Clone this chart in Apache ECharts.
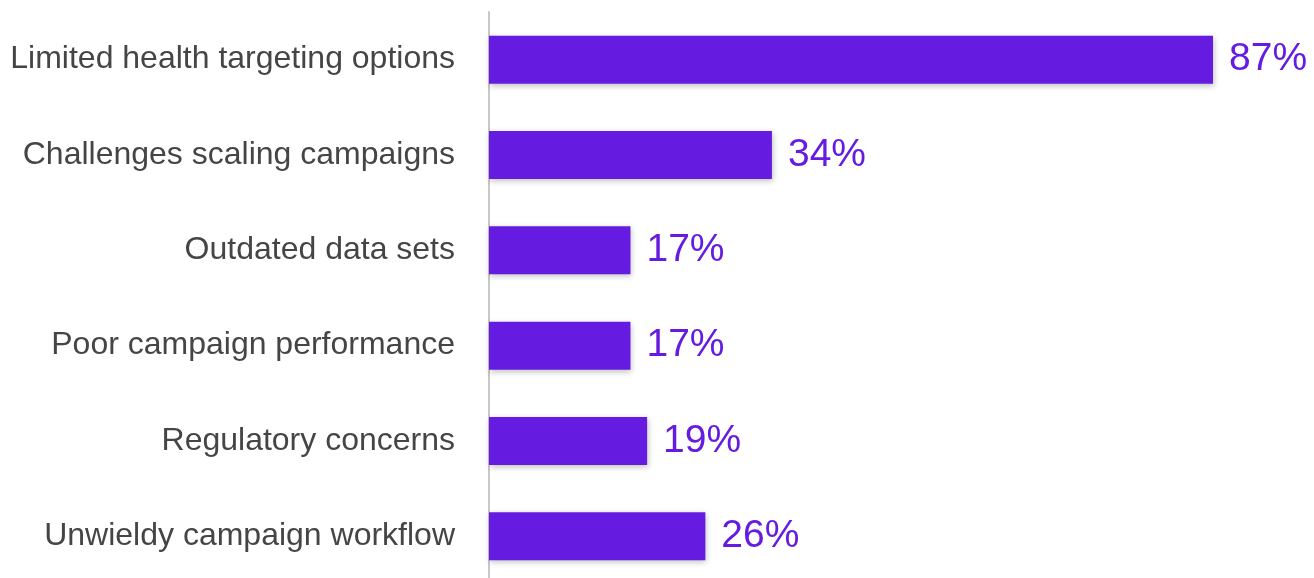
<!DOCTYPE html>
<html>
<head>
<meta charset="UTF-8">
<title>Health targeting challenges</title>
<script src="https://cdn.jsdelivr.net/npm/echarts@6/dist/echarts.min.js"></script>
<style>
  html, body { margin: 0; padding: 0; background: #fff; }
</style>
</head>
<body>
<div id="main" style="width:1314px;height:578px;"></div>
<script type="text/javascript">
// data (top to bottom)
var categories = ['Limited health targeting options', 'Challenges scaling campaigns', 'Outdated data sets',
                  'Poor campaign performance', 'Regulatory concerns', 'Unwieldy campaign workflow'];
var values = [87, 34, 17, 17, 19, 26];

var myChart = echarts.init(document.getElementById('main'));

var option = {
    animation: false,
    grid: {
        left: 489,
        top: 12,
        width: 724 * 100 / 87,
        height: 572,
        outerBoundsMode: 'none',   // grid goes past the canvas edge on purpose
        containLabel: false
    },
    xAxis: {
        type: 'value',
        min: 0,
        max: 100,
        show: false
    },
    yAxis: {
        type: 'category',
        inverse: true,
        data: categories,
        axisLine: { show: true, lineStyle: { color: '#c8c8c8', width: 2 } },
        axisTick: { show: false },
        axisLabel: {
            color: '#454545',
            fontSize: 32,
            fontFamily: 'Liberation Sans, Arial, sans-serif',
            margin: 34,
            padding: [5, 0, 0, 0]
        }
    },
    series: [{
        type: 'bar',
        data: values,
        barWidth: 48,
        itemStyle: {
            color: '#651ce0',
            shadowColor: 'rgba(0,0,0,0.25)',
            shadowBlur: 6,
            shadowOffsetX: 1,
            shadowOffsetY: 2
        },
        label: {
            show: true,
            position: 'right',
            distance: 16,
            formatter: '{c}%',
            color: '#651ce0',
            fontSize: 39,
            fontFamily: 'Liberation Sans, Arial, sans-serif',
            padding: [5, 0, 0, 0]
        }
    }]
};

myChart.setOption(option);
</script>
</body>
</html>
